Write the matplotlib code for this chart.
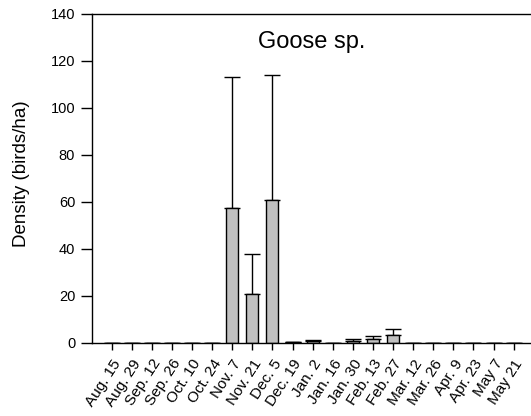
import matplotlib
matplotlib.use("Agg")
import matplotlib.pyplot as plt
import numpy as np

plt.rcParams['font.family'] = ['Liberation Sans', 'DejaVu Sans']

categories = ["Aug. 15", "Aug. 29", "Sep. 12", "Sep. 26", "Oct. 10", "Oct. 24",
              "Nov. 7", "Nov. 21", "Dec. 5", "Dec. 19", "Jan. 2", "Jan. 16",
              "Jan. 30", "Feb. 13", "Feb. 27", "Mar. 12", "Mar. 26", "Apr. 9",
              "Apr. 23", "May 7", "May 21"]
density = [0, 0, 0, 0, 0, 0, 57.5, 21, 61, 0.3, 0.8, 0.1, 0.8, 1.8, 3.5, 0, 0, 0, 0, 0, 0]
err_upper = [0, 0, 0, 0, 0, 0, 55.5, 17, 53, 0, 0.6, 0, 0.7, 1.2, 2.6, 0, 0, 0, 0, 0, 0]
yticks = [0, 20, 40, 60, 80, 100, 120, 140]

fig = plt.figure(figsize=(5.31, 4.16), dpi=100)
ax = fig.add_axes([0.173, 0.1755, 0.827, 0.7915])
x = np.arange(len(categories))
ax.bar(x, density, width=0.6, color='#c0c0c0', edgecolor='black', linewidth=1.0, zorder=2)
ax.errorbar(x, density, yerr=[np.zeros(len(x)), err_upper], fmt='none',
            ecolor='black', elinewidth=1.0, capsize=5.8, capthick=1.0, zorder=1)
ax.set_xlim(-0.98, 20.86)
ax.set_ylim(0, 140)
ax.set_yticks(yticks)
ax.set_xticks(x)
ax.set_xticklabels(categories, rotation=57, ha='right', va='top', rotation_mode='anchor', fontsize=11)
ax.tick_params(axis='y', direction='out', length=8, labelsize=10.5, width=1, pad=4)
ax.tick_params(axis='x', direction='out', length=5, width=1, pad=5)
ax.spines['right'].set_visible(False)
for s in ['left', 'top', 'bottom']:
    ax.spines[s].set_linewidth(1.0)
fig.text(22 / 531, 1 - 174 / 416, 'Density (birds/ha)', rotation=90, ha='center', va='center', fontsize=13.5)
ax.text(0.5, 0.897, 'Goose sp.', transform=ax.transAxes, ha='center', va='baseline', fontsize=17)
fig.savefig('out.png', dpi=100)
